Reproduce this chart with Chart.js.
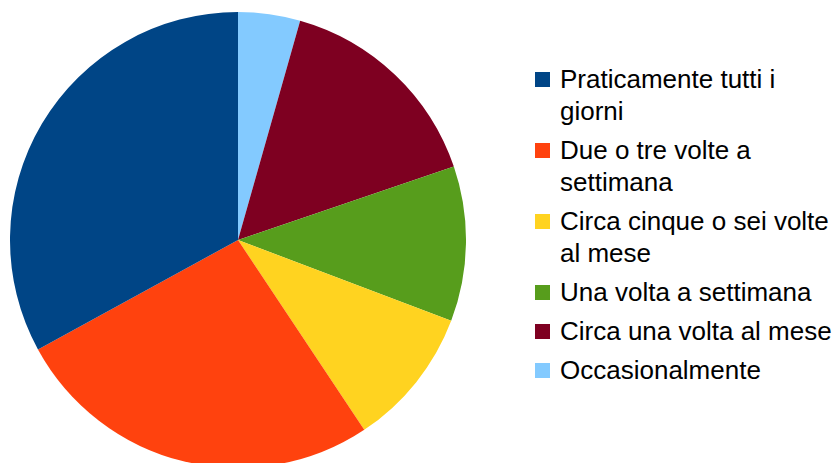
<!DOCTYPE html>
<html>
<head>
<meta charset="utf-8">
<script src="https://cdn.jsdelivr.net/npm/chart.js@4/dist/chart.umd.min.js"></script>
<style>
  html, body { margin: 0; padding: 0; background: #fff; overflow: hidden; width: 833px; height: 463px; }
  #myChart { position: absolute; left: 10px; top: 12px; }
  #legend { position: absolute; left: 535px; top: 63px; width: 298px;
            font-family: "Liberation Sans", Arial, sans-serif; font-size: 26px; line-height: 32px; color: #000; }
  .item { display: flex; align-items: flex-start; margin-bottom: 7px; }
  .box { width: 15px; height: 15px; margin-top: 9px; flex: none; }
  .txt { margin-left: 10px; width: 272px; }
</style>
</head>
<body>
<canvas id="myChart" width="456" height="456"></canvas>
<div id="legend"></div>
<script>
// risposte (conteggi)
var categorie = ['Praticamente tutti i giorni', 'Due o tre volte a settimana', 'Circa cinque o sei volte al mese',
                 'Una volta a settimana', 'Circa una volta al mese', 'Occasionalmente'];
var valori = [30, 24, 9, 10, 14, 4];
var colori = ['#004586', '#ff420e', '#ffd320', '#579d1c', '#7e0021', '#83caff'];

// la torta originale gira in senso antiorario: Chart.js va in senso orario, quindi invertiamo
var dati = valori.slice().reverse();
var col = colori.slice().reverse();
var etichette = categorie.slice().reverse();

var ctx = document.getElementById('myChart').getContext('2d');
var myChart = new Chart(ctx, {
    type: 'pie',
    data: {
        labels: etichette,
        datasets: [{
            data: dati,
            backgroundColor: col,
            borderWidth: 0,
            hoverOffset: 0,
            offset: 0
        }]
    },
    options: {
        responsive: false,
        animation: false,
        devicePixelRatio: 1,
        layout: { padding: 0 },
        plugins: {
            legend: { display: false },
            tooltip: { enabled: false }
        }
    }
});

// legenda in HTML (testo a capo come nell'originale)
var legend = document.getElementById('legend');
for (var i = 0; i < categorie.length; i++) {
    var item = document.createElement('div');
    item.className = 'item';
    var box = document.createElement('div');
    box.className = 'box';
    box.style.background = colori[i];
    var txt = document.createElement('div');
    txt.className = 'txt';
    txt.textContent = categorie[i];
    item.appendChild(box);
    item.appendChild(txt);
    legend.appendChild(item);
}
</script>
</body>
</html>
